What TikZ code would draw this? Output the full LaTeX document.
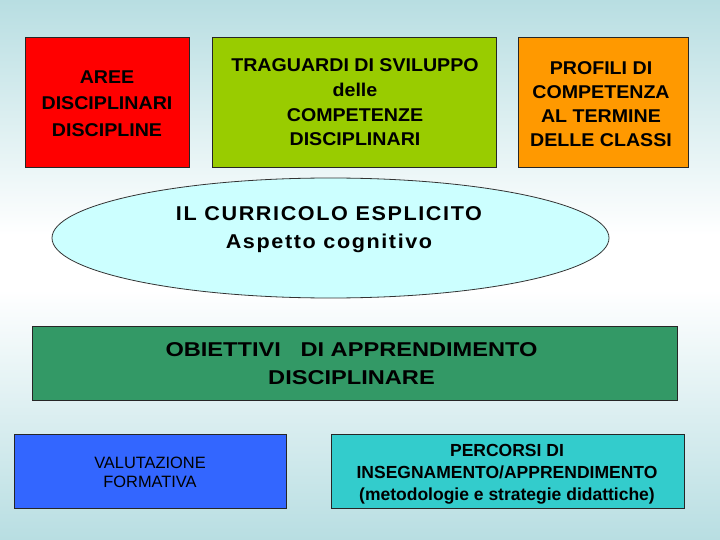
\documentclass[tikz,border=0pt]{standalone}
\usepackage{fontspec}
\setmainfont{Liberation Sans}
\newfontfamily\fTop{Liberation Sans}[FakeStretch=1.06]
\newfontfamily\fEll{Liberation Sans}[FakeStretch=1.08,LetterSpace=8]
\newfontfamily\fObj{Liberation Sans}[FakeStretch=1.18]
\newfontfamily\fReg{Liberation Sans}
\usetikzlibrary{shapes.geometric}
\definecolor{bgc}{RGB}{184,222,226}
\definecolor{cred}{RGB}{255,0,0}
\definecolor{cgreen}{RGB}{153,204,0}
\definecolor{corange}{RGB}{255,153,0}
\definecolor{cell}{RGB}{204,255,255}
\definecolor{cdark}{RGB}{51,153,102}
\definecolor{cblue}{RGB}{51,102,255}
\definecolor{cteal}{RGB}{51,204,204}
\tikzset{
  box/.style={draw=black!85, line width=0.8pt, inner sep=0pt, align=center, text=black},
  topbox/.style={box, minimum height=130pt},
}
\begin{document}
\begin{tikzpicture}[x=1pt,y=-1pt]
\useasboundingbox (0,0) rectangle (720,540);
\shade[top color=bgc,bottom color=white] (0,0) rectangle (720,235);
\fill[white] (0,234) rectangle (720,291);
\shade[top color=white,bottom color=bgc] (0,290) rectangle (720,540);

\node[topbox, fill=cred, minimum width=164pt, font=\fTop\bfseries\fontsize{18.5}{26.5}\selectfont] (aree) at (107,102) {};
\node[align=center, inner sep=0pt, font=\fTop\bfseries\fontsize{18.5}{26.5}\selectfont] (areet) at (107,103.5) {AREE\\DISCIPLINARI\\DISCIPLINE};
\node[topbox, fill=cgreen, minimum width=284pt] (trag) at (354,102) {};
\node[align=center, inner sep=0pt, font=\fTop\bfseries\fontsize{18.5}{24.7}\selectfont] (tragt) at (355,102.5) {TRAGUARDI DI SVILUPPO\\delle\\COMPETENZE\\DISCIPLINARI};
\node[topbox, fill=corange, minimum width=170pt] (prof) at (603,102) {};
\node[align=center, inner sep=0pt, font=\fTop\bfseries\fontsize{18.5}{24}\selectfont] (proft) at (601,104) {PROFILI DI\\COMPETENZA\\AL TERMINE\\DELLE CLASSI};

\node[ellipse, draw=black!80, line width=0.8pt, fill=cell, minimum width=557pt, minimum height=120pt, inner sep=0pt] (ell) at (330.5,238) {};
\node[align=center, inner sep=0pt, font=\fEll\bfseries\fontsize{20}{28}\selectfont] (ellt) at (329,230) {IL CURRICOLO ESPLICITO\\Aspetto cognitivo};

\node[box, fill=cdark, minimum width=645pt, minimum height=74pt] (obj) at (354.5,363) {};
\node[align=center, inner sep=0pt, font=\fObj\bfseries\fontsize{20}{28}\selectfont] (objt) at (351.5,364) {OBIETTIVI\ \ \ DI APPRENDIMENTO\\DISCIPLINARE};

\node[box, fill=cblue, minimum width=272pt, minimum height=74pt] (val) at (150,471) {};
\node[align=center, inner sep=0pt, font=\fReg\fontsize{16.4}{19.2}\selectfont] (valt) at (150,472) {VALUTAZIONE\\FORMATIVA};
\node[box, fill=cteal, minimum width=353pt, minimum height=74pt] (perc) at (507.5,471) {};
\node[align=center, inner sep=0pt, font=\fReg\bfseries\fontsize{17.5}{22}\selectfont] (perct) at (507,474) {PERCORSI DI\\INSEGNAMENTO/APPRENDIMENTO\\(metodologie e strategie didattiche)};
\end{tikzpicture}
\end{document}
